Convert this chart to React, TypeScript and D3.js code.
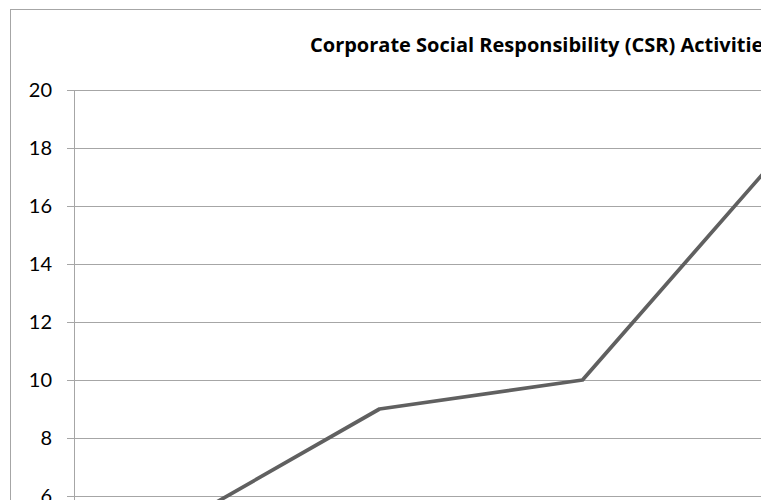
import React from "react";
import * as d3 from "d3";

const categories = ["2012", "2013", "2014", "2015"];
const values = [5, 9, 10, 18];
const yTicks = [0, 2, 4, 6, 8, 10, 12, 14, 16, 18, 20];
const title = "Corporate Social Responsibility (CSR) Activities";

const W = 761;
const H = 492;

export default function App() {
  const plotLeft = 67;
  const band = 203;
  const x = d3
    .scaleBand<string>()
    .domain(categories)
    .range([plotLeft, plotLeft + band * categories.length]);
  const y = d3.scaleLinear().domain([0, 20]).range([662, 82]);
  const line = d3
    .line<number>()
    .x((_, i) => (x(categories[i]) as number) + x.bandwidth() / 2)
    .y((d) => y(d));
  const font = "Lato, 'Open Sans', sans-serif";
  return (
    <svg width={W} height={H} style={{ display: "block" }}>
      <rect x={2.5} y={1.5} width={1000} height={700} fill="#fff" stroke="#a6a6a6" strokeWidth={1} />
      <text x={302} y={44} fontFamily="'Open Sans', sans-serif" fontWeight={700} fontSize={20} fill="#000">
        {title}
      </text>
      {yTicks.map((t) => (
        <g key={t}>
          <line x1={59} x2={plotLeft + band * categories.length} y1={Math.round(y(t)) + 0.5} y2={Math.round(y(t)) + 0.5} stroke="#a6a6a6" strokeWidth={1} />
          <text x={44} y={y(t)} dy="0.36em" textAnchor="end" fontFamily={font} fontSize={20} fill="#000">
            {t}
          </text>
        </g>
      ))}
      <line x1={plotLeft - 0.5} x2={plotLeft - 0.5} y1={y(20)} y2={y(0)} stroke="#a6a6a6" strokeWidth={1} />
      <path d={line(values) ?? ""} fill="none" stroke="#606060" strokeWidth={3.75} strokeLinejoin="round" />
    </svg>
  );
}
